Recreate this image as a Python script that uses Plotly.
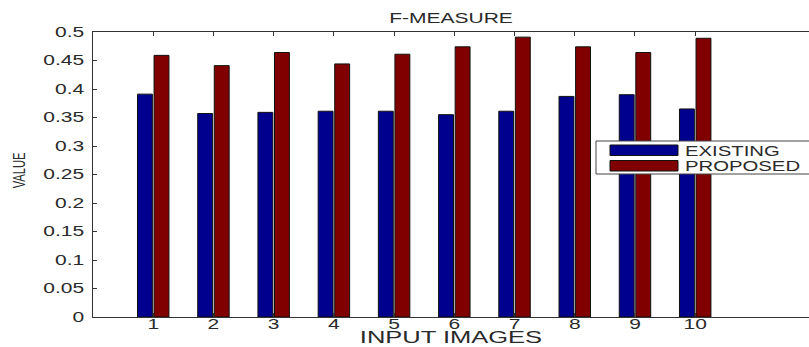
import plotly.graph_objects as go

categories = [1, 2, 3, 4, 5, 6, 7, 8, 9, 10]
existing = [0.391, 0.357, 0.359, 0.361, 0.361, 0.355, 0.361, 0.387, 0.390, 0.365]
proposed = [0.459, 0.441, 0.464, 0.444, 0.461, 0.474, 0.491, 0.474, 0.464, 0.489]
y_tickvals = [0, 0.05, 0.1, 0.15, 0.2, 0.25, 0.3, 0.35, 0.4, 0.45, 0.5]
y_ticktext = ["0", "0.05", "0.1", "0.15", "0.2", "0.25", "0.3", "0.35", "0.4", "0.45", "0.5"]
series_names = ["EXISTING", "PROPOSED"]
colors = ["#00008F", "#800000"]

FONT = "Liberation Sans, Arial, sans-serif"
TXT = "#2a2a2a"

fig = go.Figure()
for name, vals, col in zip(series_names, [existing, proposed], colors):
    fig.add_trace(go.Bar(x=categories, y=vals, name=name, marker_color=col,
                         marker_line_color="#111111", marker_line_width=1))

# custom MATLAB-like legend (wide swatches)
L, R, T, B = 93, 809, 32, 317
def px(x):
    return (x - L) / (R - L)
def py(y):
    return (B - y) / (B - T)

shapes = [
    dict(type="rect", xref="paper", yref="paper", x0=px(596), x1=px(830), y0=py(174), y1=py(141),
         fillcolor="white", line=dict(color="#444444", width=1), layer="above"),
]
annotations = []
for i, (name, col) in enumerate(zip(series_names, colors)):
    top = 145 + i * 15.5
    shapes.append(dict(type="rect", xref="paper", yref="paper", x0=px(610), x1=px(678),
                       y0=py(top + 10.5), y1=py(top), fillcolor=col,
                       line=dict(color="#111111", width=1), layer="above"))
    annotations.append(dict(text=name, xref="paper", yref="paper", x=px(684), y=py(top + 5.5),
                            xanchor="left", yanchor="middle", showarrow=False, borderpad=0,
                            font=dict(family=FONT, size=14, color=TXT)))

# y-axis title, rotated
annotations.append(dict(text="VALUE", xref="paper", yref="paper", x=px(19), y=py(171),
                        xanchor="center", yanchor="middle", textangle=-90, showarrow=False,
                        borderpad=0, font=dict(family=FONT, size=16, color=TXT)))

fig.update_layout(
    width=809, height=347,
    margin=dict(l=L, r=0, t=T, b=347 - B, autoexpand=False),
    paper_bgcolor="white", plot_bgcolor="white",
    barmode="group", bargap=0.45, bargroupgap=0.1,
    showlegend=False,
    font=dict(family=FONT, size=14, color=TXT),
    title=dict(text="F-MEASURE", x=0.5, xref="paper", xanchor="center",
               y=1 - 18 / 347, yanchor="middle", font=dict(family=FONT, size=14, color=TXT)),
    shapes=shapes, annotations=annotations,
)
fig.update_xaxes(range=[0, (R - L) / 60.22], tickvals=categories, ticktext=[str(c) for c in categories],
                 ticks="inside", ticklen=4, tickcolor="#333333", showline=True, linecolor="#333333",
                 linewidth=1, mirror="ticks", showgrid=False, zeroline=False, automargin=False,
                 title=dict(text="INPUT IMAGES", standoff=2), ticklabelstandoff=-6)
fig.update_yaxes(range=[0, 0.5], tickvals=y_tickvals, ticktext=y_ticktext,
                 ticks="inside", ticklen=4, tickcolor="#333333", showline=True, linecolor="#333333",
                 linewidth=1, showgrid=False, zeroline=False, automargin=False,
                 ticklabelstandoff=5)

# MATLAB export text looks horizontally stretched: widen glyphs with SVG textLength
post = """
document.body.style.margin = '0';
document.body.style.padding = '0';
(function(){
  var texts = document.querySelectorAll('.main-svg text');
  texts.forEach(function(t){
    var cls = t.getAttribute('class') || '';
    var rotated = !!t.closest('[transform*="rotate(-90"]');
    var isAnn = cls.indexOf('annotation-text') >= 0;
    var k = 1.5;
    if (isAnn) k = 1.45;
    if (rotated) k = 0.7;
    var w = t.getComputedTextLength();
    if (!w) return;
    var b0 = t.getBBox();
    t.setAttribute('textLength', w * k);
    t.setAttribute('lengthAdjust', 'spacingAndGlyphs');
    if (isAnn && !rotated) {
      var b1 = t.getBBox();
      var dx = b0.x - b1.x;
      t.setAttribute('x', parseFloat(t.getAttribute('x') || 0) + dx);
      t.querySelectorAll('tspan[x]').forEach(function(s){
        s.setAttribute('x', parseFloat(s.getAttribute('x')) + dx);
      });
    }
  });
})();
"""
fig.write_html("out.html", post_script=post, config={"displayModeBar": False})
